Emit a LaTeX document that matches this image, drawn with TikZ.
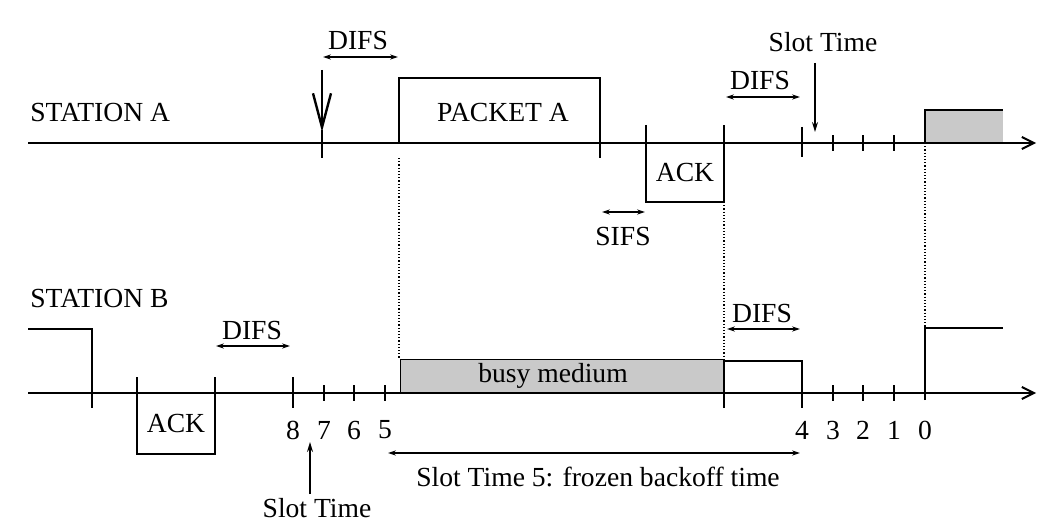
\documentclass[tikz,border=0pt]{standalone}
\usepackage{fontspec}
\setmainfont{Liberation Serif}
\usetikzlibrary{arrows.meta,positioning,calc}

\begin{document}
\begin{tikzpicture}[x=0.5pt, y=-0.5pt,
  axisline/.style={line width=1pt, -{Straight Barb[length=6pt,width=6pt]}},
  tick/.style={line width=0.9pt},
  frame/.style={line width=0.8pt},
  span/.style={line width=0.6pt, {Stealth[length=4pt,width=2.6pt]}-{Stealth[length=4pt,width=2.6pt]}},
  guide/.style={densely dotted, line width=0.6pt},
  lbl/.style={font=\fontsize{13.8}{16}\selectfont, inner sep=0pt},
  busy/.style={fill=gray!42}]
  \useasboundingbox (0,0) rectangle (1038,524);
  % y positions of the two time lines (pixels, downward)
  \def\ya{143}
  \def\yb{393}

  % ---------------- STATION A ----------------
  \node[lbl, anchor=west] (staA) at (30,112) {STATION A};
  \fill[busy] (925,\ya) rectangle (1003,110);
  \draw[frame] (925,\ya) |- (1003,110);
  \draw[axisline] (28,\ya) -- (1036,\ya);
  % medium becomes free: arrow down, then DIFS
  \draw[line width=1.4pt, -{Straight Barb[length=17pt,width=9pt,line width=1.2pt]}] (322,70) -- (322,132);
  \draw[tick] (322,130) -- (322,158);
  \draw[span] (323,57) -- (398,57);
  \node[lbl] (difsA1) at (358,40) {DIFS};
  % packet A
  \draw[frame] (399,\ya) |- (600,78) -- (600,158);
  \node[lbl] (pktA) at (503,112) {PACKET A};
  % ACK on A's line, after SIFS
  \draw[frame] (646,125) -- (646,202) -| (724,125);
  \node[lbl] (ackA) at (685,172) {ACK};
  \draw[span] (602,212) -- (645,212);
  \node[lbl] (sifs) at (623,236) {SIFS};
  % DIFS after the ACK
  \draw[span] (726,97) -- (800,97);
  \node[lbl] (difsA2) at (760,80) {DIFS};
  \draw[tick] (802,127) -- (802,157);
  % slot time marker
  \node[lbl] (slotA) at (823,42) {Slot Time};
  \draw[line width=0.7pt, -{Stealth[length=5pt,width=3pt]}] (815,63) -- (815,132);
  \foreach \x in {833,863,894} {
    \draw[tick] (\x,135) -- (\x,151);
  }

  % dotted guides between the lines
  \draw[guide] (399,158) -- (399,359);
  \draw[guide] (724,202) -- (724,360);
  \draw[guide] (925,\ya) -- (925,328);

  % ---------------- STATION B ----------------
  \node[lbl, anchor=west] (staB) at (30,298) {STATION B};
  \draw[busy] (400,\yb) rectangle (724,359);
  \node[lbl] (busyB) at (553,376) {busy medium};
  \draw[axisline] (28,\yb) -- (1036,\yb);
  % earlier frame and its ACK
  \draw[frame] (28,329) -| (92,408);
  \draw[frame] (137,377) -- (137,454) -| (215,377);
  \node[lbl] (ackB) at (176,423) {ACK};
  \draw[span] (216,346) -- (290,346);
  \node[lbl] (difsB1) at (252,330) {DIFS};
  % backoff slots 8..5
  \draw[tick] (293,377) -- (293,408);
  \foreach \x/\n in {324/7,354/6,385/5} {
    \draw[tick] (\x,385) -- (\x,401);
  }
  \foreach \x/\n in {293/8,324/7,354/6,385/5} {
    \node[lbl] (cnt\n) at (\x,430) {\n};
  }
  \node[lbl] (slotB) at (317,508) {Slot Time};
  \draw[line width=0.7pt, -{Stealth[length=5pt,width=3pt]}] (310,494) -- (310,442);
  % DIFS after busy medium
  \draw[frame] (724,408) -- (724,\yb) |- (802,361) -- (802,408);
  \draw[span] (727,329) -- (800,329);
  \node[lbl] (difsB2) at (762,313) {DIFS};
  % backoff slots 4..0
  \foreach \x in {833,863,894} {
    \draw[tick] (\x,385) -- (\x,401);
  }
  \foreach \x/\n in {802/4,833/3,863/2,894/1,925/0} {
    \node[lbl] (cnt\n) at (\x,430) {\n};
  }
  % B transmits
  \draw[frame] (925,400) -- (925,328) -- (1003,328);
  % frozen backoff
  \draw[span] (388,453) -- (800,453);
  \node[lbl] (frozen) at (598,477) {Slot Time 5: frozen backoff time};
\end{tikzpicture}
\end{document}
